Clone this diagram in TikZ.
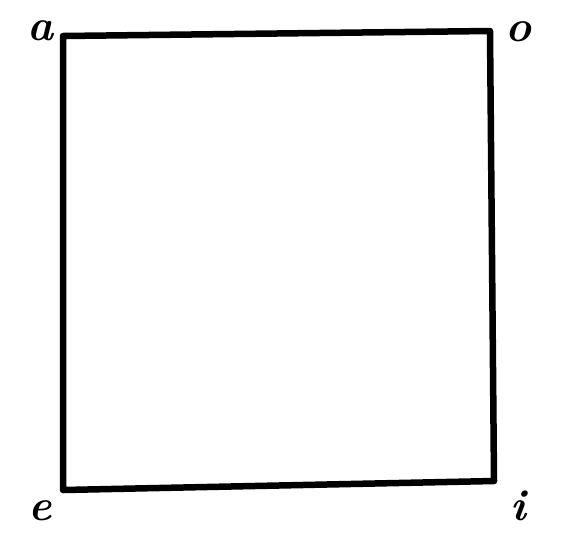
\documentclass[tikz,border=0pt]{standalone}
\usepackage{tikz}
\usetikzlibrary{positioning}
\tikzstyle{corner} = [font=\fontsize{44}{44}\selectfont\bfseries\itshape, inner sep=0pt, anchor=base]
\tikzstyle{edge} = [draw=black, line width=6.5pt, line join=round]

\begin{document}
\begin{tikzpicture}[x=1pt,y=-1pt]
	\useasboundingbox (0,0) rectangle (572,539);
	\coordinate (a) at (63,36);
	\coordinate (o) at (490,31);
	\coordinate (i) at (494,481);
	\coordinate (e) at (63,490);

	\node[corner] (la) at (41,40) {a};
	\node[corner] (lo) at (518,41) {o};
	\node[corner] (le) at (40,520) {e};
	\node[corner] (li) at (518,520) {i};

	\draw[edge] (a) -- (o) -- (i) -- (e) -- cycle;
\end{tikzpicture}
\end{document}
